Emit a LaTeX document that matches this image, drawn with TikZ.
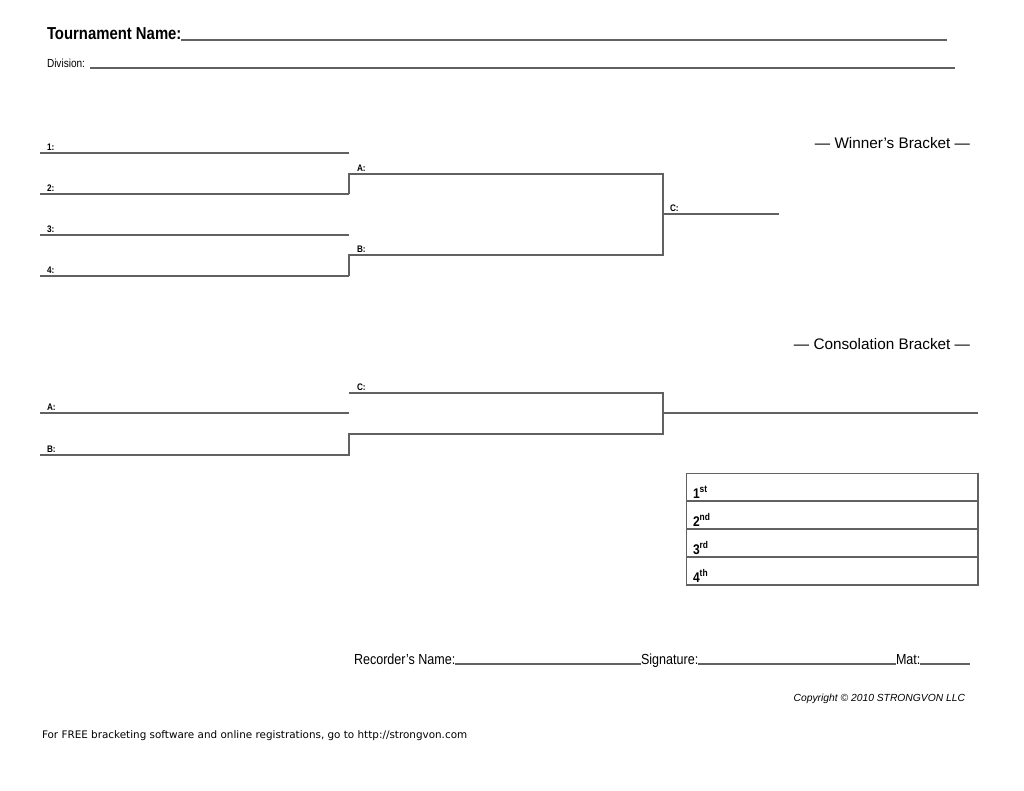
\documentclass[tikz,border=0pt]{standalone}
\usepackage{fontspec}
\setmainfont{Liberation Sans}
\newfontfamily\narrowfont[FakeStretch=0.86]{Liberation Sans}
\newfontfamily\footfont{DejaVu Sans}
\definecolor{rulegray}{gray}{0.38}

\begin{document}
\begin{tikzpicture}[
    x=1pt, y=-1pt,
    every node/.style={inner sep=0pt, outer sep=0pt},
    bline/.style={draw=rulegray, line width=1.05pt},
    seed/.style={anchor=base west, font=\narrowfont\bfseries\fontsize{9.5}{11}\selectfont},
    heading/.style={anchor=base east, font=\fontsize{15.3}{17}\selectfont},
    place/.style={anchor=base west, font=\narrowfont\bfseries\fontsize{14}{16}\selectfont},
    formtext/.style={anchor=base west, font=\narrowfont\fontsize{14.6}{16}\selectfont}
    ]

\useasboundingbox (0,0) rectangle (1024,791);

% Header
\node[anchor=base west, font=\narrowfont\bfseries\fontsize{17.3}{19}\selectfont] (title) at (47,40) {Tournament Name:};
\coordinate (title end) at (947,40);
\draw[bline] (title.base east) -- (title end);

\node[anchor=base west, font=\narrowfont\fontsize{11.7}{13}\selectfont] (division) at (47,68) {Division:};
\node[anchor=base west] (division gap) at ([xshift=4pt]division.base east) {};
\coordinate (division end) at (955,68);
\draw[bline] (division gap) -- (division end);

% Winner's Bracket
\node[heading] (winner) at (970,149) {— Winner’s Bracket —};

\foreach \n/\y in {1/153, 2/194, 3/235, 4/276} {
    \coordinate (s\n) at (40,\y);
    \coordinate (s\n e) at (349,\y);
    \draw[bline] (s\n) -- (s\n e);
    \node[seed] (seed \n) at (47,\y-2.5) {\n:};
}

\coordinate (Aw) at (349,174);
\coordinate (Ae) at (663,174);
\coordinate (Bw) at (349,255);
\coordinate (Be) at (663,255);
\coordinate (Cw) at (663,214);
\coordinate (Ce) at (779,214);

\draw[bline] (s2e) -- (Aw) -- (Ae) -- (Be) -- (Bw) -- (s4e);
\draw[bline] (Cw) -- (Ce);

\node[seed] (win A) at (357,171.5) {A:};
\node[seed] (win B) at (357,252.5) {B:};
\node[seed] (win C) at (670,211.5) {C:};

% Consolation Bracket
\node[heading] (consolation) at (970,349) {— Consolation Bracket —};

\coordinate (cA) at (40,413);
\coordinate (cAe) at (349,413);
\coordinate (cB) at (40,455);
\coordinate (cBe) at (349,455);
\coordinate (cLw) at (349,434);
\coordinate (cLe) at (663,434);
\coordinate (cCw) at (349,393);
\coordinate (cCe) at (663,393);
\coordinate (cOw) at (663,413);
\coordinate (cOe) at (978,413);

\draw[bline] (cA) -- (cAe);
\draw[bline] (cB) -- (cBe) -- (cLw) -- (cLe) -- (cCe) -- (cCw);
\draw[bline] (cOw) -- (cOe);

\node[seed] (con A) at (47,410.5) {A:};
\node[seed] (con B) at (47,452.5) {B:};
\node[seed] (con C) at (357,390.5) {C:};

% Placings
\coordinate (tab nw) at (686.5,473.5);
\coordinate (tab se) at (978,585);
\draw[bline] (tab nw) rectangle (tab se);
\foreach \y in {501, 529, 557} {
    \coordinate (row w \y) at (686.5,\y);
    \coordinate (row e \y) at (978,\y);
    \draw[bline] (row w \y) -- (row e \y);
}
\node[place] (first)  at (693,498) {1\textsuperscript{st}};
\node[place] (second) at (693,526) {2\textsuperscript{nd}};
\node[place] (third)  at (693,554) {3\textsuperscript{rd}};
\node[place] (fourth) at (693,582) {4\textsuperscript{th}};

% Recorder line
\node[formtext] (recorder) at (354,664) {Recorder’s Name:};
\node[formtext] (signature) at (641,664) {Signature:};
\node[formtext] (mat) at (896,664) {Mat:};
\coordinate (mat end) at (970,664);
\draw[bline] (recorder.base east) -- (signature.base west);
\draw[bline] (signature.base east) -- (mat.base west);
\draw[bline] (mat.base east) -- (mat end);

\node[anchor=base east, font=\itshape\fontsize{10.3}{12}\selectfont] (copyright) at (965,701) {Copyright © 2010 STRONGVON LLC};

% Footer
\node[anchor=base west, font=\footfont\fontsize{10.4}{12}\selectfont] (footer) at (42,738) {For FREE bracketing software and online registrations, go to http://strongvon.com};

\end{tikzpicture}
\end{document}
